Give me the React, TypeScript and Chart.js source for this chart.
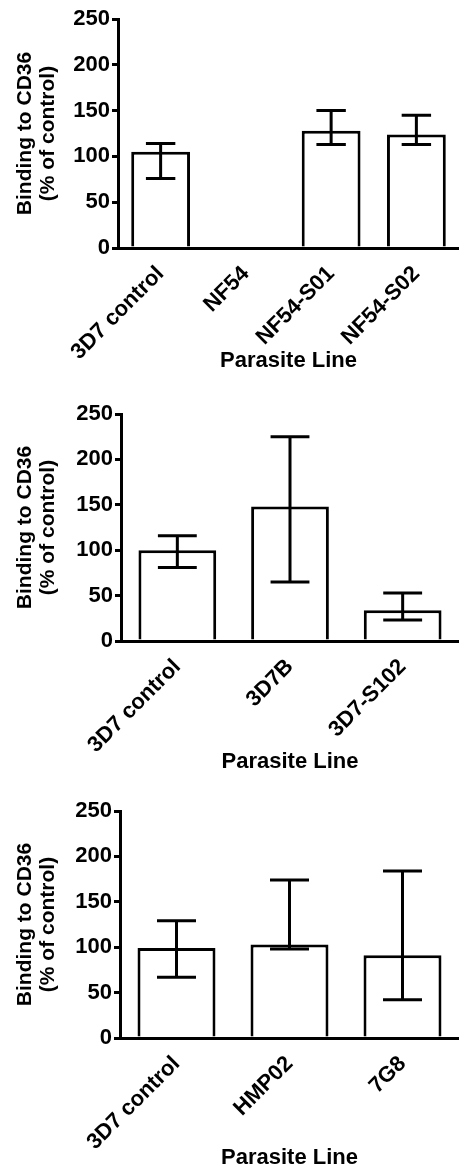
import React, { useEffect, useRef } from "react";
import { Chart, registerables } from "chart.js";

Chart.register(...registerables);

// ---- Data ----
const panel1Labels = ["3D7 control", "NF54", "NF54-S01", "NF54-S02"];
const panel1Values = [105, 0, 128, 124];
const panel1Upper = [114, 0, 150, 145];
const panel1Lower = [76, 0, 113, 113];

const panel2Labels = ["3D7 control", "3D7B", "3D7-S102"];
const panel2Values = [100, 148, 34];
const panel2Upper = [116, 225, 53];
const panel2Lower = [81, 65, 23];

const panel3Labels = ["3D7 control", "HMP02", "7G8"];
const panel3Values = [99, 103, 91];
const panel3Upper = [129, 174, 184];
const panel3Lower = [67, 98, 42];

const yMin = 0;
const yMax = 250;
const yStep = 50;

const yTitle = ["Binding to CD36", "(% of control)"];
const xTitle = "Parasite Line";

const FONT = "'Liberation Sans', Arial, Helvetica, sans-serif";

function errorBarPlugin(upper: number[], lower: number[]) {
  return {
    id: "errorBars",
    afterDatasetsDraw(chart: any) {
      const { ctx } = chart;
      const y = chart.scales.y;
      const meta = chart.getDatasetMeta(0);
      ctx.save();
      ctx.strokeStyle = "#000";
      ctx.lineWidth = 3;
      ctx.lineCap = "butt";
      meta.data.forEach((bar: any, i: number) => {
        if (upper[i] === lower[i]) return;
        const x = bar.x;
        const half = bar.width / 4;
        const yh = y.getPixelForValue(upper[i]);
        const yl = y.getPixelForValue(lower[i]);
        ctx.beginPath();
        ctx.moveTo(x, yh);
        ctx.lineTo(x, yl);
        ctx.moveTo(x - half, yh);
        ctx.lineTo(x + half, yh);
        ctx.moveTo(x - half, yl);
        ctx.lineTo(x + half, yl);
        ctx.stroke();
      });
      ctx.restore();
    },
  };
}

interface PanelProps {
  labels: string[];
  values: number[];
  upper: number[];
  lower: number[];
  top: number;
  height: number;
  padTop: number;
  axisLeft: number;
  xHeight: number;
  titlePad: number;
}

function Panel(p: PanelProps) {
  const ref = useRef<HTMLCanvasElement | null>(null);
  useEffect(() => {
    if (!ref.current) return;
    const chart = new Chart(ref.current, {
      type: "bar",
      data: {
        labels: p.labels,
        datasets: [
          {
            data: p.values,
            backgroundColor: "#ffffff",
            borderColor: "#000000",
            borderWidth: 3,
            barPercentage: 0.69,
            categoryPercentage: 1,
          },
        ],
      },
      options: {
        animation: false,
        responsive: true,
        maintainAspectRatio: false,
        layout: { padding: { top: p.padTop, left: 0, right: 0, bottom: 0 } },
        plugins: {
          legend: { display: false },
          tooltip: { enabled: false },
        },
        scales: {
          x: {
            afterFit: (s: any) => {
              s.height = p.xHeight;
            },
            grid: { display: false },
            border: { display: true, color: "#000", width: 3 },
            ticks: {
              autoSkip: false,
              minRotation: 45,
              maxRotation: 45,
              color: "#000",
              padding: 5,
              font: { family: FONT, size: 22, weight: "bold" },
            },
            title: {
              display: true,
              text: xTitle,
              color: "#000",
              padding: { top: 0, bottom: p.titlePad },
              font: { family: FONT, size: 22, weight: "bold", lineHeight: 1 },
            },
          },
          y: {
            min: yMin,
            max: yMax,
            afterFit: (s: any) => {
              s.width = p.axisLeft;
            },
            grid: {
              display: true,
              drawOnChartArea: false,
              drawTicks: true,
              tickLength: 6,
              lineWidth: 3,
              color: "#000",
            },
            border: { display: true, color: "#000", width: 3 },
            ticks: {
              stepSize: yStep,
              color: "#000",
              padding: 2,
              font: { family: FONT, size: 22, weight: "bold" },
            },
            title: {
              display: true,
              text: yTitle,
              color: "#000",
              padding: { top: 14, bottom: 0 },
              font: { family: FONT, size: 21, weight: "bold", lineHeight: 1.07 },
            },
          },
        },
      },
      plugins: [errorBarPlugin(p.upper, p.lower)],
    });
    return () => chart.destroy();
  }, []);
  return (
    <div
      style={{
        position: "absolute",
        left: 0,
        top: p.top,
        width: 459,
        height: p.height,
      }}
    >
      <canvas ref={ref} />
    </div>
  );
}

export default function App() {
  return (
    <div
      style={{
        position: "fixed",
        left: 0,
        top: 0,
        width: 459,
        height: 1168,
        background: "#fff",
        overflow: "hidden",
      }}
    >
      <Panel
        labels={panel1Labels}
        values={panel1Values}
        upper={panel1Upper}
        lower={panel1Lower}
        top={0}
        height={380}
        padTop={19}
        axisLeft={118}
        xHeight={132}
        titlePad={8}
      />
      <Panel
        labels={panel2Labels}
        values={panel2Values}
        upper={panel2Upper}
        lower={panel2Lower}
        top={380}
        height={400}
        padTop={34}
        axisLeft={121}
        xHeight={139}
        titlePad={7}
      />
      <Panel
        labels={panel3Labels}
        values={panel3Values}
        upper={panel3Upper}
        lower={panel3Lower}
        top={780}
        height={388}
        padTop={31}
        axisLeft={120}
        xHeight={130}
        titlePad={-1}
      />
    </div>
  );
}
